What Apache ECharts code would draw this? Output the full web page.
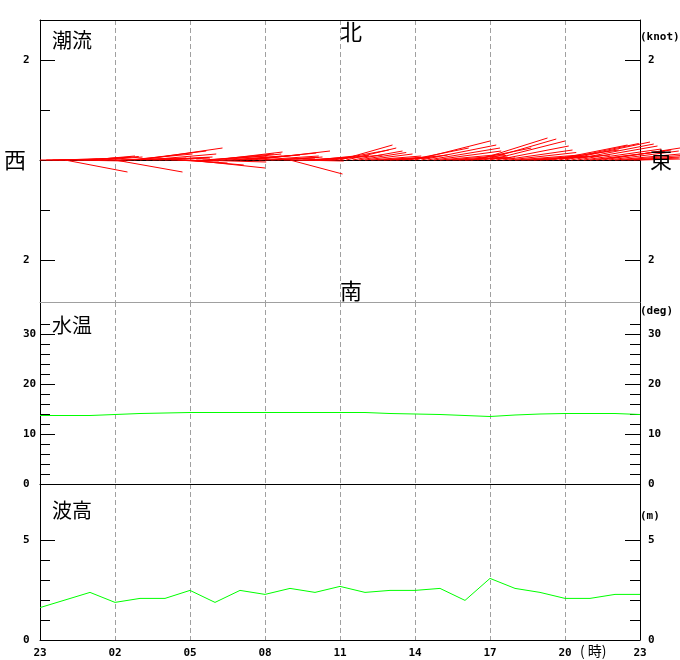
<!DOCTYPE html>
<html>
<head>
<meta charset="utf-8">
<script src="https://cdn.jsdelivr.net/npm/echarts@6/dist/echarts.min.js"></script>
<style>
html,body{margin:0;padding:0;background:#fff;}
#chart{width:680px;height:660px;}
</style>
</head>
<body>
<div id="chart"></div>
<script>
// x tick labels (hours, every 3 hours starting at 23:00)
const xTickLabels = ['23','02','05','08','11','14','17','20','23'];

// hourly steps since 23:00
const hourSteps = [0,1,2,3,4,5,6,7,8,9,10,11,12,13,14,15,16,17,18,19,20,21,22,23,24];

// water temperature (deg)
const waterTemp = [13.7,13.7,13.7,13.9,14.1,14.2,14.3,14.3,14.3,14.3,14.3,14.3,14.3,14.3,14.1,14.0,13.9,13.7,13.5,13.8,14.0,14.1,14.1,14.1,13.9];

// wave height (m)
const waveHeight = [1.62,2.0,2.38,1.88,2.08,2.08,2.48,1.88,2.48,2.28,2.58,2.38,2.68,2.38,2.48,2.48,2.58,1.98,3.08,2.58,2.38,2.08,2.08,2.28,2.28];

// tidal current vectors: time (hours since 23:00), east and north components (knot)
const currentTime = [
  0,0.25,0.5,0.75, 1,1.25,1.5,1.75, 2,2.25,2.5,2.75, 3,3.25,3.5,3.75,
  4,4.25,4.5,4.75, 5,5.25,5.5,5.75, 6,6.25,6.5,6.75, 7,7.25,7.5,7.75,
  8,8.25,8.5,8.75, 9,9.25,9.5,9.75, 10,10.25,10.5,10.75, 11,11.25,11.5,11.75,
  12,12.25,12.5,12.75, 13,13.25,13.5,13.75, 14,14.25,14.5,14.75, 15,15.25,15.5,15.75,
  16,16.25,16.5,16.75, 17,17.25,17.5,17.75, 18,18.25,18.5,18.75, 19,19.25,19.5,19.75,
  20,20.25,20.5,20.75, 21,21.25,21.5,21.75, 22,22.25,22.5,22.75, 23,23.25,23.5,23.75,
  24
];
const currentEast = [
  0.6,0.75,0.9,1.1, 1.25,1.1,1.0,0.95, 0.9,0.85,0.8,1.1, 1.35,1.3,1.3,1.45,
  1.65,1.4,1.2,1.0, 0.9,0.95,1.0,1.2, 1.5,1.4,1.3,1.3, 1.35,1.2,1.1,1.15,
  1.2,1.4,1.55,1.2, 1.0,0.95,0.9,1.0, 1.05,0.95,0.9,0.85, 0.8,0.95,1.1,1.1,
  1.05,1.0,1.0,0.95, 0.95,1.0,1.0,0.9, 0.8,0.85,0.9,1.2, 1.5,1.5,1.45,1.35,
  1.3,1.2,1.1,1.05, 1.0,1.2,1.4,1.45, 1.5,1.45,1.4,1.35, 1.3,1.25,1.2,1.3,
  1.4,1.45,1.5,1.6, 1.7,1.65,1.6,1.55, 1.5,1.5,1.55,1.4, 1.3,1.2,1.05,0.9,
  0.8
];
const currentNorth = [
  0,0.01,0.02,0.03, -0.24,-0.02,0.05,0.06, 0.08,0.07,0.06,0.02, -0.24,0.04,0.12,0.18,
  0.24,0.12,0.06,0.05, 0.04,-0.02,-0.06,-0.1, -0.16,-0.04,0.08,0.12, 0.16,0.12,0.08,0.09,
  0.1,0.14,0.18,0.08, 0.04,0.05,0.06,0.0, -0.28,-0.02,0.04,0.06, 0.08,0.09,0.1,0.2,
  0.3,0.24,0.18,0.15, 0.12,0.08,0.06,0.05, 0.04,0.07,0.1,0.24, 0.38,0.3,0.24,0.18,
  0.12,0.09,0.06,0.05, 0.04,0.24,0.44,0.42, 0.38,0.28,0.2,0.15, 0.1,0.08,0.06,0.08,
  0.1,0.2,0.3,0.33, 0.36,0.32,0.28,0.22, 0.18,0.2,0.24,0.18, 0.12,0.09,0.06,0.04,
  0.02
];

// axis tick values
const currentMajorTicks = [-2, 2];
const currentMinorTicks = [-1, 1];
const tempLabels = [0, 10, 20, 30];
const tempMajorTicks = [10, 20, 30];
const tempMinorTicks = [2,4,6,8,12,14,16,18,22,24,26,28,32];
const waveLabels = [0, 5];
const waveMajorTicks = [5];
const waveMinorTicks = [1, 2, 3, 4];

const MONO = 'DejaVu Sans Mono';
const CJK = 'Noto Sans CJK JP';
const GRAY = '#a0a0a0';

function xAxisDef(grid, position, lineColor, opts) {
  return Object.assign({
    type: 'value', gridIndex: grid, min: 0, max: 24, interval: 3, position: position,
    axisLine: { show: true, onZero: false, lineStyle: { color: lineColor, width: 1 } },
    axisTick: { show: false },
    axisLabel: { show: false },
    splitLine: { show: false }
  }, opts || {});
}

function yAxisDef(grid, position, min, max, tickLen, tickVals, labelVals, showLine, fmt) {
  const a = {
    type: 'value', gridIndex: grid, min: min, max: max, position: position,
    axisLine: { show: showLine, onZero: false, lineStyle: { color: '#000', width: 1 } },
    axisTick: { show: true, inside: true, length: tickLen, customValues: tickVals, lineStyle: { color: '#000', width: 1 } },
    splitLine: { show: false }
  };
  if (labelVals) {
    a.axisLabel = {
      show: true, customValues: labelVals, color: '#000',
      fontFamily: MONO, fontWeight: 'bold', fontSize: 11,
      align: 'left', margin: position === 'left' ? 17 : 8,
      formatter: fmt || (v => String(v))
    };
  } else {
    a.axisLabel = { show: false };
  }
  return a;
}

const dashed = { show: true, lineStyle: { color: GRAY, type: [5, 3], width: 1 } };

const option = {
  animation: false,
  backgroundColor: '#fff',
  grid: [
    { left: 40, right: 40, top: 20, height: 282 },
    { left: 40, right: 40, top: 302, height: 182 },
    { left: 40, right: 40, top: 484, height: 156 }
  ],
  xAxis: [
    xAxisDef(0, 'top', '#000', { splitLine: dashed }),
    xAxisDef(0, 'bottom', '#000', { axisLine: { show: true, onZero: true, onZeroAxisIndex: 0, lineStyle: { color: '#000', width: 1 } } }),
    xAxisDef(1, 'top', GRAY, { splitLine: dashed }),
    xAxisDef(2, 'top', '#000', { splitLine: dashed }),
    xAxisDef(2, 'bottom', '#000', {
      axisLabel: {
        show: true, margin: 8, color: '#000', fontFamily: MONO, fontWeight: 'bold', fontSize: 11,
        showMinLabel: true, showMaxLabel: true, hideOverlap: false,
        formatter: v => xTickLabels[Math.round(v / 3)]
      }
    })
  ],
  yAxis: [
    yAxisDef(0, 'left', -2.84, 2.8, 15, currentMajorTicks, currentMajorTicks, true, v => String(Math.abs(v))),
    yAxisDef(0, 'left', -2.84, 2.8, 10, currentMinorTicks, null, false),
    yAxisDef(0, 'right', -2.84, 2.8, 15, currentMajorTicks, currentMajorTicks, true, v => String(Math.abs(v))),
    yAxisDef(0, 'right', -2.84, 2.8, 10, currentMinorTicks, null, false),
    yAxisDef(1, 'left', 0, 36.4, 15, tempMajorTicks, tempLabels, true),
    yAxisDef(1, 'left', 0, 36.4, 10, tempMinorTicks, null, false),
    yAxisDef(1, 'right', 0, 36.4, 15, tempMajorTicks, tempLabels, true),
    yAxisDef(1, 'right', 0, 36.4, 10, tempMinorTicks, null, false),
    yAxisDef(2, 'left', 0, 7.8, 15, waveMajorTicks, waveLabels, true),
    yAxisDef(2, 'left', 0, 7.8, 10, waveMinorTicks, null, false),
    yAxisDef(2, 'right', 0, 7.8, 15, waveMajorTicks, waveLabels, true),
    yAxisDef(2, 'right', 0, 7.8, 10, waveMinorTicks, null, false)
  ],
  series: [
    {
      type: 'custom', xAxisIndex: 0, yAxisIndex: 0, clip: false, silent: true, z: 5,
      data: currentTime.map((t, i) => [t, currentEast[i], currentNorth[i]]),
      encode: { x: 0, y: 2 },
      renderItem: function (params, api) {
        const t = api.value(0), u = api.value(1), v = api.value(2);
        const start = api.coord([t, 0]);
        const k = api.size([0, 1])[1];
        return {
          type: 'line',
          shape: { x1: start[0], y1: start[1], x2: start[0] + u * k, y2: start[1] - v * k },
          style: { stroke: '#ff0000', lineWidth: 1 }
        };
      }
    },
    {
      type: 'line', xAxisIndex: 2, yAxisIndex: 4, symbol: 'none', silent: true,
      lineStyle: { color: '#00ff00', width: 1 },
      data: hourSteps.map((h, i) => [h, waterTemp[i]])
    },
    {
      type: 'line', xAxisIndex: 4, yAxisIndex: 8, symbol: 'none', silent: true,
      lineStyle: { color: '#00ff00', width: 1 },
      data: hourSteps.map((h, i) => [h, waveHeight[i]])
    }
  ],
  graphic: [
    { type: 'text', left: 52, top: 30, z: 10, style: { text: '潮流', font: '20px "' + CJK + '"', fill: '#000' } },
    { type: 'text', left: 52, top: 315, z: 10, style: { text: '水温', font: '20px "' + CJK + '"', fill: '#000' } },
    { type: 'text', left: 52, top: 500, z: 10, style: { text: '波高', font: '20px "' + CJK + '"', fill: '#000' } },
    { type: 'text', x: 351, y: 32, z: 10, style: { text: '北', font: '22px "' + CJK + '"', fill: '#000', align: 'center', verticalAlign: 'middle' } },
    { type: 'text', x: 351, y: 291, z: 10, style: { text: '南', font: '22px "' + CJK + '"', fill: '#000', align: 'center', verticalAlign: 'middle' } },
    { type: 'text', x: 15, y: 160, z: 10, style: { text: '西', font: '22px "' + CJK + '"', fill: '#000', align: 'center', verticalAlign: 'middle' } },
    { type: 'text', x: 661, y: 160, z: 10, style: { text: '東', font: '22px "' + CJK + '"', fill: '#000', align: 'center', verticalAlign: 'middle' } },
    { type: 'text', x: 640, y: 37, z: 10, style: { text: '(knot)', font: 'bold 11px "' + MONO + '"', fill: '#000', align: 'left', verticalAlign: 'middle' } },
    { type: 'text', x: 640, y: 311, z: 10, style: { text: '(deg)', font: 'bold 11px "' + MONO + '"', fill: '#000', align: 'left', verticalAlign: 'middle' } },
    { type: 'text', x: 640, y: 516, z: 10, style: { text: '(m)', font: 'bold 11px "' + MONO + '"', fill: '#000', align: 'left', verticalAlign: 'middle' } },
    { type: 'text', x: 580, y: 651, z: 10, style: { text: '( 時)', font: '14px "' + CJK + '"', fill: '#000', align: 'left', verticalAlign: 'middle' } }
  ]
};

const chart = echarts.init(document.getElementById('chart'), null, { renderer: 'canvas' });
chart.setOption(option);
</script>
</body>
</html>
